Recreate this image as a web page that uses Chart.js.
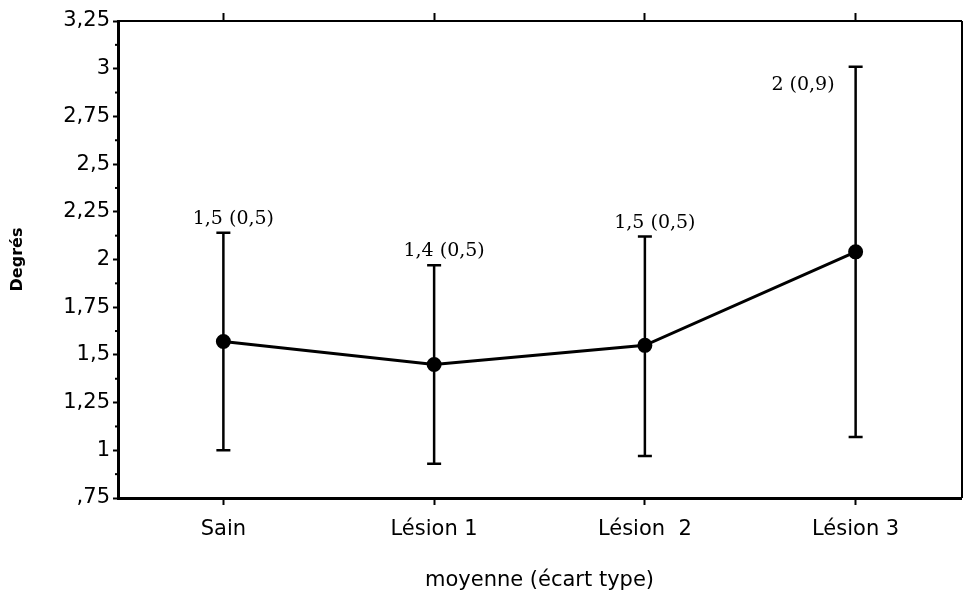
<!DOCTYPE html>
<html lang="fr">
  <head>
    <meta charset="UTF-8" />
    <title>Degrés</title>
    <style>
      * {
        margin: 0;
        padding: 0;
        box-sizing: border-box;
      }

      body {
        background: #fff;
      }

      #chart {
        display: block;
      }
    </style>
  </head>

  <body>
    <canvas id="chart" width="963" height="599"></canvas>

    <script src="https://cdn.jsdelivr.net/npm/chart.js@4/dist/chart.umd.min.js"></script>
    <script>
      // Categories and values
      const categories = ["Sain", "Lésion 1", "Lésion  2", "Lésion 3"];
      const means = [1.57, 1.45, 1.55, 2.04];
      const errLow = [1.0, 0.93, 0.97, 1.07];
      const errHigh = [2.14, 1.97, 2.12, 3.01];
      const pointLabels = ["1,5 (0,5)", "1,4 (0,5)", "1,5 (0,5)", "2 (0,9)"];

      // Y axis ticks
      const tickValues = [0.75, 1, 1.25, 1.5, 1.75, 2, 2.25, 2.5, 2.75, 3, 3.25];
      const tickLabels = [",75", "1", "1,25", "1,5", "1,75", "2", "2,25", "2,5", "2,75", "3", "3,25"];

      const axisFont = { family: "DejaVu Sans", size: 21 };

      // error bars + text above them
      const errorBars = {
        id: "errorBars",
        beforeDatasetsDraw(chart) {
          const { ctx, scales } = chart;
          ctx.save();
          ctx.strokeStyle = "#000";
          ctx.lineWidth = 2.5;
          means.forEach((m, i) => {
            const x = scales.x.getPixelForValue(i);
            const yl = scales.y.getPixelForValue(errLow[i]);
            const yh = scales.y.getPixelForValue(errHigh[i]);
            ctx.beginPath();
            ctx.moveTo(x, yl);
            ctx.lineTo(x, yh);
            ctx.moveTo(x - 7, yl);
            ctx.lineTo(x + 7, yl);
            ctx.moveTo(x - 7, yh);
            ctx.lineTo(x + 7, yh);
            ctx.stroke();
          });
          ctx.restore();
        },
        afterDatasetsDraw(chart) {
          const { ctx, scales } = chart;
          ctx.save();
          ctx.fillStyle = "#000";
          ctx.font = "19px 'DejaVu Serif'";
          ctx.textBaseline = "alphabetic";
          pointLabels.forEach((txt, i) => {
            const x = scales.x.getPixelForValue(i);
            const yh = scales.y.getPixelForValue(errHigh[i]);
            if (i === pointLabels.length - 1) {
              // last one sits left of the bar
              ctx.textAlign = "right";
              ctx.fillText(txt, x - 21, yh + 23);
            } else {
              ctx.textAlign = "center";
              ctx.fillText(txt, x + 10, yh - 9);
            }
          });
          ctx.restore();
        },
      };

      // minor ticks on the left and the thin right border
      const frame = {
        id: "frame",
        afterDraw(chart) {
          const { ctx, scales, chartArea } = chart;
          ctx.save();
          ctx.strokeStyle = "#000";
          ctx.lineWidth = 2;
          for (let i = 0; i < tickValues.length - 1; i++) {
            const y = scales.y.getPixelForValue((tickValues[i] + tickValues[i + 1]) / 2);
            ctx.beginPath();
            ctx.moveTo(chartArea.left - 3, y);
            ctx.lineTo(chartArea.left, y);
            ctx.stroke();
          }
          ctx.beginPath();
          ctx.moveTo(chartArea.right + 1, chartArea.top);
          ctx.lineTo(chartArea.right + 1, chartArea.bottom);
          ctx.stroke();
          ctx.restore();
        },
      };

      new Chart(document.getElementById("chart"), {
        type: "line",
        plugins: [errorBars, frame],
        data: {
          labels: categories,
          datasets: [
            {
              data: means,
              borderColor: "#000",
              backgroundColor: "#000",
              borderWidth: 3,
              pointRadius: 6,
              pointHoverRadius: 6,
              tension: 0,
            },
          ],
        },
        options: {
          responsive: false,
          animation: false,
          devicePixelRatio: 1,
          layout: { autoPadding: false, padding: { left: 0, top: 0, bottom: 0, right: 2 } },
          plugins: {
            legend: { display: false },
            tooltip: { enabled: false },
          },
          scales: {
            x: {
              position: "bottom",
              offset: true,
              afterFit: (s) => { s.height = 101; },
              grid: { drawOnChartArea: false, tickLength: 7, tickWidth: 2, tickColor: "#000" },
              border: { color: "#000", width: 3 },
              ticks: { color: "#000", font: axisFont, padding: 12, maxRotation: 0 },
              title: {
                display: true,
                text: "moyenne (écart type)",
                color: "#000",
                font: { family: "DejaVu Sans", size: 21 },
                padding: { top: 6, bottom: 6 },
              },
            },
            xTop: {
              type: "category",
              position: "top",
              offset: true,
              afterFit: (s) => { s.height = 21; },
              grid: { drawOnChartArea: false, tickLength: 8, tickWidth: 2, tickColor: "#000" },
              border: { color: "#000", width: 2 },
              ticks: { display: false },
            },
            y: {
              position: "left",
              min: 0.75,
              max: 3.25,
              afterFit: (s) => { s.width = 118; },
              grid: { drawOnChartArea: false, tickLength: 5, tickWidth: 2, tickColor: "#000" },
              border: { color: "#000", width: 3 },
              ticks: {
                stepSize: 0.25,
                color: "#000",
                font: axisFont,
                padding: 3,
                callback: (v) => {
                  const k = tickValues.indexOf(v);
                  return k >= 0 ? tickLabels[k] : "";
                },
              },
              title: {
                display: true,
                text: "Degrés",
                color: "#000",
                font: { family: "DejaVu Sans", size: 16, weight: "bold" },
                padding: { top: 8, bottom: 8 },
              },
            },
          },
        },
      });
    </script>
  </body>
</html>
